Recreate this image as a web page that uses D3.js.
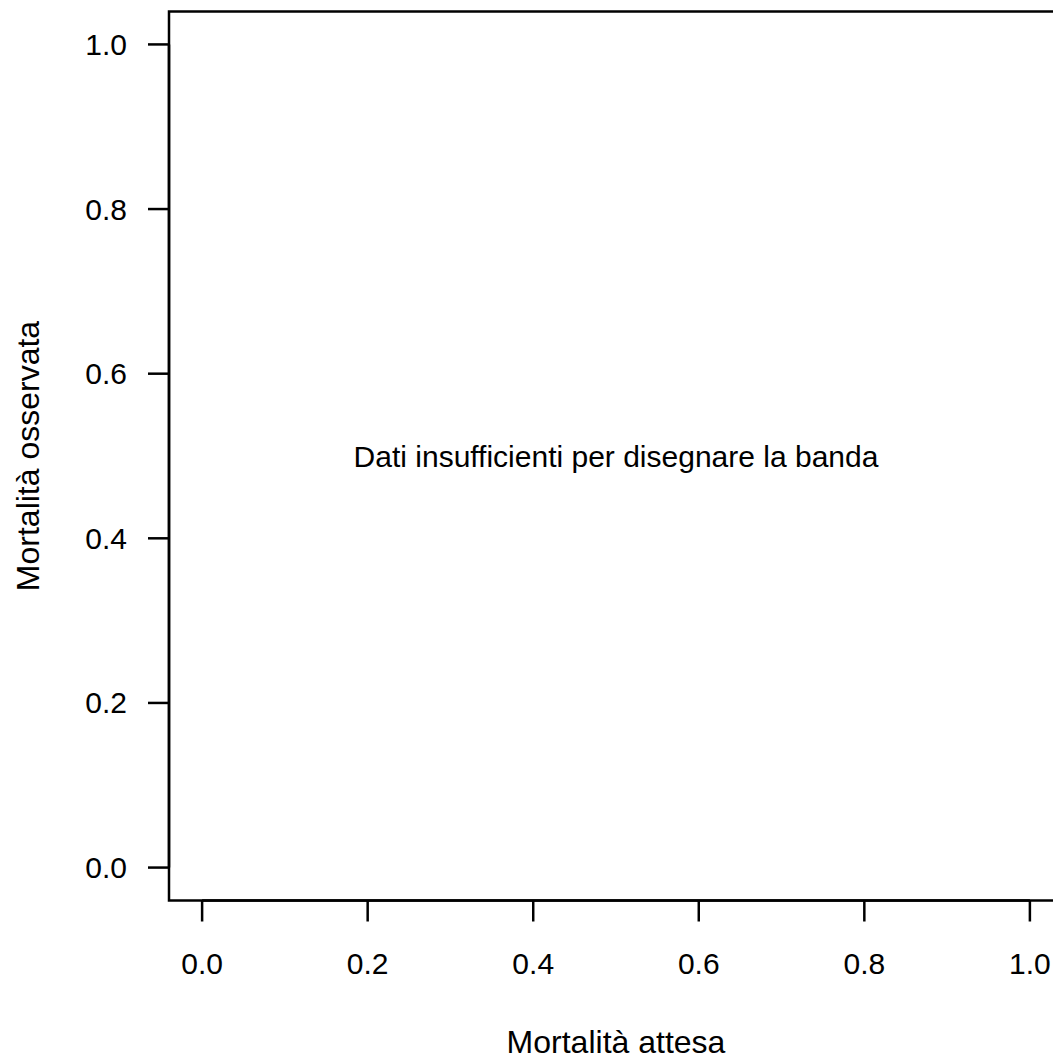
<!DOCTYPE html>
<html>
<head>
<meta charset="utf-8">
<script src="https://cdn.jsdelivr.net/npm/d3@7"></script>
<style>
  body { margin: 0; background: #fff; }
  text { font-family: "Liberation Sans", Arial, sans-serif; fill: #000; }
</style>
</head>
<body>
<script>
(function() {

    var xTicks = [0, 0.2, 0.4, 0.6, 0.8, 1.0];
    var yTicks = [0, 0.2, 0.4, 0.6, 0.8, 1.0];
    var xTitle = "Mortalità attesa";
    var yTitle = "Mortalità osservata";
    var message = "Dati insufficienti per disegnare la banda";

    var width = 1053, height = 1061;
    var fs = 30,      // tick labels and message
        fsLab = 32;   // axis titles

    var svg = d3.select("body").append("svg")
        .attr("width", width)
        .attr("height", height);

    // R style: range extended by 4% on each side
    var x = d3.scaleLinear().domain([-0.04, 1.04]).range([169, 1063]);
    var y = d3.scaleLinear().domain([-0.04, 1.04]).range([900.5, 11.5]);

    // plot box
    svg.append("rect")
        .attr("x", x(-0.04))
        .attr("y", y(1.04))
        .attr("width", x(1.04) - x(-0.04))
        .attr("height", y(-0.04) - y(1.04))
        .attr("fill", "none")
        .attr("stroke", "#000")
        .attr("stroke-width", 2.5);

    // x axis
    var xg = svg.append("g")
        .attr("transform", "translate(0," + y(-0.04) + ")");
    xg.append("line")
        .attr("x1", x(0)).attr("x2", x(1))
        .attr("stroke", "#000").attr("stroke-width", 2.5);
    xg.selectAll(".xt").data(xTicks).enter().append("line")
        .attr("x1", function(d){ return x(d); })
        .attr("x2", function(d){ return x(d); })
        .attr("y1", 0).attr("y2", 21)
        .attr("stroke", "#000").attr("stroke-width", 2.5);
    xg.selectAll(".xl").data(xTicks).enter().append("text")
        .attr("x", function(d){ return x(d); })
        .attr("y", 73.5)
        .attr("text-anchor", "middle")
        .attr("font-size", fs)
        .text(function(d){ return d.toFixed(1); });

    // y axis
    var yg = svg.append("g")
        .attr("transform", "translate(" + x(-0.04) + ",0)");
    yg.append("line")
        .attr("y1", y(0)).attr("y2", y(1))
        .attr("stroke", "#000").attr("stroke-width", 2.5);
    yg.selectAll(".yt").data(yTicks).enter().append("line")
        .attr("y1", function(d){ return y(d); })
        .attr("y2", function(d){ return y(d); })
        .attr("x1", 0).attr("x2", -21)
        .attr("stroke", "#000").attr("stroke-width", 2.5);
    yg.selectAll(".yl").data(yTicks).enter().append("text")
        .attr("x", -42)
        .attr("y", function(d){ return y(d); })
        .attr("dy", "0.35em")
        .attr("text-anchor", "end")
        .attr("font-size", fs)
        .text(function(d){ return d.toFixed(1); });

    // titles
    svg.append("text")
        .attr("x", x(0.5))
        .attr("y", 1053)
        .attr("text-anchor", "middle")
        .attr("font-size", fsLab)
        .text(xTitle);

    svg.append("text")
        .attr("transform", "translate(39," + y(0.5) + ") rotate(-90)")
        .attr("text-anchor", "middle")
        .attr("font-size", fsLab)
        .text(yTitle);

    // message in the middle
    svg.append("text")
        .attr("x", x(0.5))
        .attr("y", y(0.5))
        .attr("dy", "0.35em")
        .attr("text-anchor", "middle")
        .attr("font-size", fs)
        .text(message);

})();
</script>
</body>
</html>
